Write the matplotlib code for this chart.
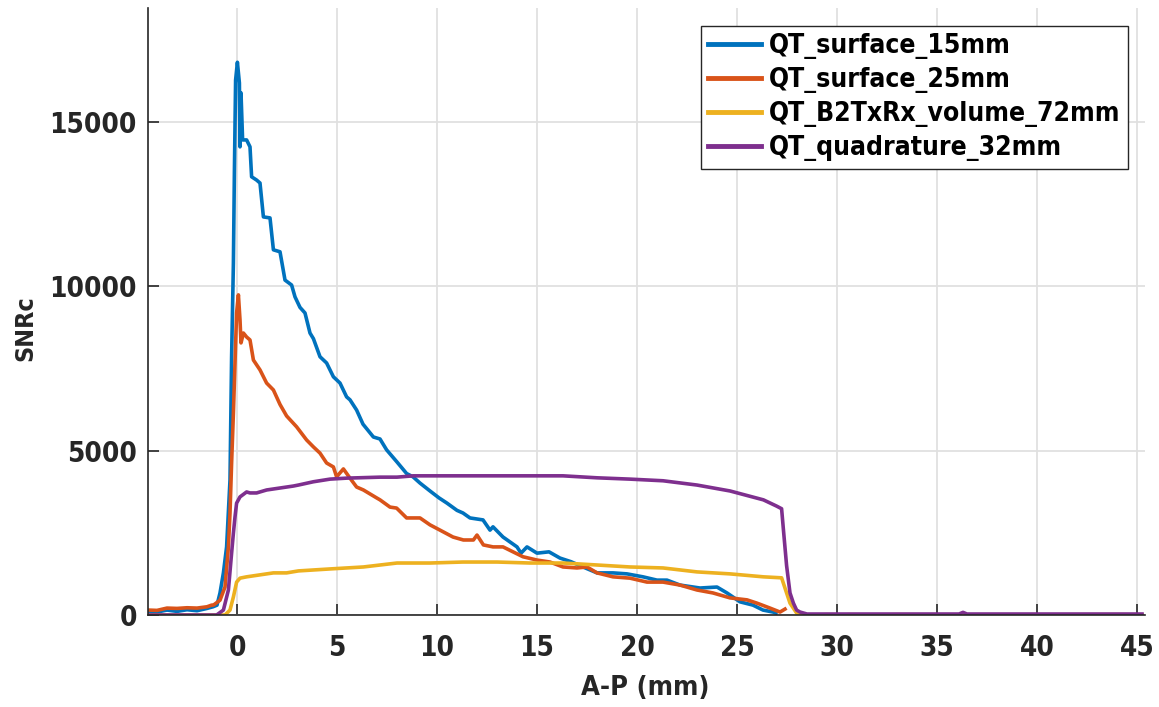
import matplotlib
matplotlib.use("Agg")
import matplotlib.pyplot as plt

# SNRc profiles along the anterior-posterior axis, one per coil
labels = [
    "QT_surface_15mm",
    "QT_surface_25mm",
    "QT_B2TxRx_volume_72mm",
    "QT_quadrature_32mm",
]
colors = ["#0072BD", "#D95319", "#EDB120", "#7E2F8E"]

surf15_x = [-4.45, -4.0, -3.5, -3.0, -2.5, -2.0, -1.5, -1.2, -1.0, -0.85, -0.68, -0.52,
            -0.35, -0.27, -0.18, -0.13, -0.07, 0.02, 0.12, 0.15, 0.2, 0.28, 0.48, 0.65,
            0.73, 0.98, 1.15, 1.32, 1.65, 1.82, 2.15, 2.4, 2.73, 2.9, 3.15, 3.4, 3.65,
            3.82, 4.15, 4.48, 4.82, 5.15, 5.48, 5.65, 5.98, 6.3, 6.82, 7.15, 7.48, 8.0,
            8.48, 8.8, 9.15, 9.65, 10.1, 10.5, 11.0, 11.3, 11.65, 12.3, 12.65, 12.8,
            13.3, 14.0, 14.2, 14.5, 15.0, 15.6, 16.15, 16.7, 17.3, 18.0, 18.8, 19.5,
            20.3, 21.0, 21.5, 22.15, 23.15, 24.0, 24.5, 25.15, 25.8, 26.3, 26.8, 26.95]
surf15_y = [120, 90, 150, 110, 160, 130, 200, 250, 300, 670, 1280, 2070,
            4100, 7840, 10700, 13470, 16260, 16800, 16170, 14230, 15870, 14440, 14440, 14230,
            13320, 13220, 13130, 12100, 12070, 11100, 11040, 10180, 10030, 9670, 9350, 9180, 8570,
            8400, 7850, 7660, 7240, 7050, 6630, 6540, 6230, 5800, 5410, 5350, 5020, 4650,
            4300, 4200, 4010, 3770, 3560, 3400, 3180, 3100, 2950, 2890, 2580, 2680,
            2370, 2070, 1880, 2070, 1880, 1920, 1730, 1620, 1460, 1280, 1280, 1250,
            1160, 1060, 1060, 910, 820, 850, 670, 400, 300, 150, 90, 60]

surf25_x = [-4.45, -4.0, -3.5, -3.0, -2.5, -2.0, -1.5, -1.27, -1.18, -0.85, -0.6, -0.43,
            -0.35, -0.27, -0.18, -0.1, -0.02, 0.07, 0.15, 0.2, 0.32, 0.48, 0.65, 0.82,
            1.15, 1.48, 1.82, 2.15, 2.48, 2.98, 3.48, 3.82, 4.15, 4.48, 4.82, 4.98,
            5.32, 5.65, 5.98, 6.32, 6.98, 7.15, 7.65, 7.98, 8.48, 9.15, 9.65, 10.15,
            10.8, 11.32, 11.82, 12.0, 12.32, 12.8, 13.3, 13.8, 14.3, 15.0, 15.65, 16.3,
            17.0, 17.5, 18.0, 18.8, 19.65, 20.5, 21.3, 22.15, 23.0, 23.8, 24.65, 25.5,
            26.0, 26.65, 27.15, 27.4]
surf25_y = [150, 140, 210, 200, 220, 210, 250, 300, 300, 450, 850, 2070,
            3100, 4620, 6140, 7660, 9180, 9730, 8970, 8270, 8570, 8450, 8360, 7750,
            7450, 7050, 6840, 6400, 6050, 5720, 5320, 5110, 4920, 4620, 4500, 4200,
            4440, 4160, 3890, 3800, 3560, 3500, 3280, 3250, 2950, 2950, 2740, 2580,
            2370, 2280, 2280, 2430, 2130, 2070, 2070, 1920, 1770, 1670, 1610, 1460,
            1430, 1460, 1280, 1160, 1120, 1000, 1000, 910, 760, 670, 520, 460,
            360, 210, 90, 180]

volume_x = [-4.45, -0.6, -0.35, -0.18, -0.02, 0.15, 0.48, 1.15, 1.82, 2.48, 3.07, 4.65,
            6.32, 8.0, 9.65, 11.3, 13.0, 14.65, 16.3, 18.0, 19.65, 21.3, 23.0, 24.65,
            26.32, 27.23, 27.48, 27.65, 27.98, 28.3, 29.0, 29.5, 30.3, 30.6, 32.0,
            33.0, 36.3, 44.3, 45.25]
volume_y = [0, 0, 150, 550, 1000, 1120, 1160, 1220, 1280, 1280, 1340, 1400,
            1460, 1580, 1580, 1610, 1610, 1580, 1580, 1520, 1460, 1430, 1310, 1250,
            1160, 1130, 670, 360, 60, 0, 0, 10, 0, 10, 0,
            10, 0, 10, 0]

quad_x = [-4.45, -1.02, -0.68, -0.43, -0.27, -0.18, -0.1, -0.02, 0.15, 0.48, 0.65, 0.98,
          1.48, 2.15, 2.82, 3.07, 3.82, 4.65, 5.48, 7.15, 8.0, 8.82, 11.3, 14.65,
          16.3, 18.0, 19.65, 21.3, 23.0, 24.65, 26.32, 26.98, 27.23, 27.32, 27.48,
          27.65, 27.82, 27.98, 28.15, 28.5, 36.1, 36.3, 36.5, 45.25]
quad_y = [0, 0, 150, 760, 1880, 2490, 2980, 3400, 3590, 3740, 3710, 3710,
          3800, 3860, 3920, 3950, 4050, 4130, 4160, 4190, 4190, 4230, 4230, 4230,
          4230, 4170, 4130, 4080, 3950, 3770, 3500, 3310, 3230, 2600, 1500,
          670, 360, 150, 90, 30, 30, 80, 30, 30]

series_x = [surf15_x, surf25_x, volume_x, quad_x]
series_y = [surf15_y, surf25_y, volume_y, quad_y]

x_ticks = [0, 5, 10, 15, 20, 25, 30, 35, 40, 45]
y_ticks = [0, 5000, 10000, 15000]

W, H = 1159, 707
fig = plt.figure(figsize=(W / 100, H / 100), dpi=100)
ax = fig.add_axes([148 / W, 1 - 615 / H, (1145 - 148) / W, (615 - 8) / H])

for xs, ys, lab, col in zip(series_x, series_y, labels, colors):
    ax.plot(xs, ys, color=col, lw=2.6, label=lab)

ax.set_xlim(-4.45, 45.4)
ax.set_ylim(0, 18450)
ax.set_xticks(x_ticks)
ax.set_yticks(y_ticks)

font = dict(family="DejaVu Sans", weight="bold", stretch="condensed")
ax.set_xticklabels([str(t) for t in x_ticks], fontsize=20, **font)
ax.set_yticklabels([str(t) for t in y_ticks], fontsize=20, **font)
ax.tick_params(direction="in", length=8, width=1.2, color="#262626",
               labelcolor="#262626")
ax.tick_params(axis="x", pad=14)
ax.tick_params(axis="y", pad=8)

ax.grid(True, color="#e0e0e0", lw=1.3)
ax.set_axisbelow(True)
for side in ["top", "right"]:
    ax.spines[side].set_visible(False)
for side in ["left", "bottom"]:
    ax.spines[side].set_color("#262626")
    ax.spines[side].set_linewidth(1.2)

ax.set_xlabel("A-P (mm)", fontsize=19.5, color="#262626", **font)
ax.set_ylabel("SNRc", fontsize=18, color="#262626", **font)
ax.xaxis.set_label_coords((645 - 148) / (1145 - 148), -(688 - 615) / (615 - 8))
ax.yaxis.set_label_coords(-(148 - 25) / (1145 - 148), (615 - 328) / (615 - 8))
ax.xaxis.label.set_va("center")
ax.yaxis.label.set_va("center")

leg = ax.legend(loc="upper right", bbox_to_anchor=(1128 / W, 1 - 26 / H),
                bbox_transform=fig.transFigure, borderaxespad=0, fancybox=False,
                framealpha=1, edgecolor="#262626", handlelength=2.0,
                handletextpad=0.3, labelspacing=0.3, borderpad=0.28,
                prop=dict(family="DejaVu Sans", weight="bold", size=19,
                          stretch="condensed"))
leg.get_frame().set_linewidth(1.0)
for line in leg.get_lines():
    line.set_linewidth(3.5)

fig.savefig("out.png", dpi=100)
